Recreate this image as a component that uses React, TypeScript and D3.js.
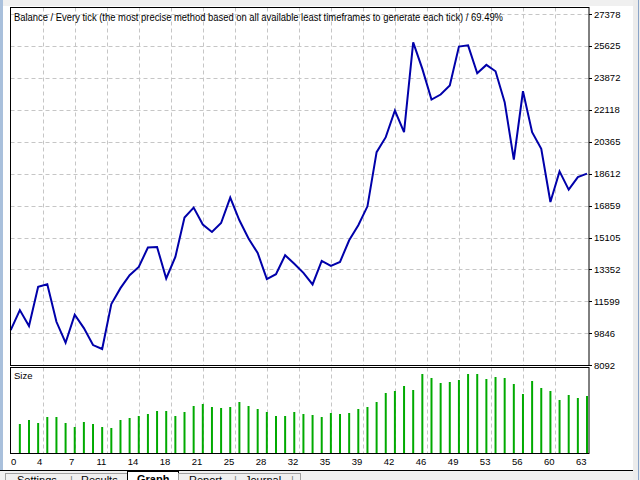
import * as d3 from 'd3'

// balance after each trade (index 0 = initial deposit)
const balance = [
  10026, 11122, 10245, 12399, 12546, 10481, 9330, 10864, 10136, 9204,
  8985, 11451, 12327, 13040, 13494, 14557, 14590, 12859, 14042, 16201,
  16749, 15817, 15412, 15905, 17297, 16053, 15050, 14261, 12820, 13094,
  14135, 13670, 13166, 12530, 13823, 13549, 13768, 14957, 15779, 16820,
  19795, 20617, 22080, 20891, 25822, 24365, 22683, 22957, 23450, 25587,
  25658, 24124, 24584, 24233, 22535, 19379, 23137, 20891, 19981, 17056,
  18738, 17735, 18425, 18612,
]

// lot size of trades 1..63
const lotSizes = [
  0.29, 0.33, 0.3, 0.36, 0.36, 0.3, 0.26, 0.31, 0.29, 0.26,
  0.25, 0.33, 0.35, 0.37, 0.39, 0.42, 0.42, 0.37, 0.41, 0.47,
  0.49, 0.46, 0.45, 0.46, 0.51, 0.47, 0.44, 0.41, 0.37, 0.37,
  0.41, 0.39, 0.38, 0.36, 0.4, 0.39, 0.4, 0.44, 0.46, 0.51,
  0.6, 0.62, 0.67, 0.63, 0.79, 0.75, 0.7, 0.71, 0.73, 0.79,
  0.79, 0.74, 0.76, 0.75, 0.69, 0.59, 0.72, 0.65, 0.62, 0.53,
  0.58, 0.55, 0.57,
]

const yTicks = [8092, 9846, 11599, 13352, 15105, 16859, 18612, 20365, 22118, 23872, 25625, 27378]
const xTickLabels = [0, 4, 7, 11, 14, 18, 21, 25, 28, 32, 35, 39, 42, 46, 49, 53, 56, 60, 63]

const title =
  'Balance / Every tick (the most precise method based on all available least timeframes to generate each tick) / 69.49%'

const font = "'Liberation Sans', Arial, sans-serif"

export default function App() {
  const left = 10.5
  const right = 589
  const top = 7.5
  const mainBottom = 365.5
  const subTop = 367.5
  const subBottom = 453.5

  const x = d3.scaleLinear().domain([0, balance.length - 1]).range([10.7, 587])
  const y = d3.scaleLinear().domain([8092, 27378]).range([365.3, 14])
  const size = d3.scaleLinear().domain([0, 0.86]).range([453, 367])

  const line = d3
    .line<number>()
    .x((_, i) => x(i))
    .y((d) => y(d))

  const step = (balance.length - 1) / (xTickLabels.length - 1)
  const gridX = xTickLabels.map((_, k) => x(k * step))

  return (
    <div style={{ position: 'fixed', left: 0, top: 0 }}>
      <svg width={640} height={480} style={{ display: 'block' }} fontFamily={font}>
        <rect width={640} height={480} fill="#ffffff" />
        {/* window chrome */}
        <rect x={0} y={0} width={640} height={6} fill="#f0f0f0" />
        <rect x={0} y={0} width={3} height={480} fill="#a9c0dc" />
        <rect x={633} y={0} width={7} height={480} fill="#ececec" />
        <line x1={638.5} x2={638.5} y1={0} y2={480} stroke="#8aa4c8" />

        {/* grid */}
        <g stroke="#c6c6c6" strokeDasharray="4,3">
          {yTicks.slice(1).map((t) => (
            <line key={t} x1={left} x2={right} y1={Math.round(y(t)) + 0.5} y2={Math.round(y(t)) + 0.5} />
          ))}
          {gridX.slice(1, -1).map((gx, k) => (
            <g key={k}>
              <line x1={Math.round(gx) + 0.5} x2={Math.round(gx) + 0.5} y1={top} y2={mainBottom} />
              <line x1={Math.round(gx) + 0.5} x2={Math.round(gx) + 0.5} y1={subTop} y2={subBottom} />
            </g>
          ))}
        </g>

        {/* size bars */}
        <g stroke="#00aa00" strokeWidth={2}>
          {lotSizes.map((s, i) => (
            <line key={i} x1={x(i + 1)} x2={x(i + 1)} y1={size(0)} y2={size(s)} />
          ))}
        </g>

        {/* balance line */}
        <path d={line(balance) ?? ''} fill="none" stroke="#0000aa" strokeWidth={2} strokeLinejoin="miter" />

        {/* frames */}
        <rect x={left} y={top} width={right - left} height={mainBottom - top} fill="none" stroke="#000" />
        <rect x={left} y={subTop} width={right - left} height={subBottom - subTop} fill="none" stroke="#000" />

        <text x={14} y={20.5} fontSize={10} textLength={489} lengthAdjust="spacingAndGlyphs" fill="#000">
          {title}
        </text>
        <text x={14} y={379} fontSize={9.5} fill="#000">
          Size
        </text>

        {/* right axis */}
        <g fontSize={9.5} fill="#000">
          {yTicks.map((t) => (
            <g key={t}>
              <line x1={right} x2={right + 3} y1={Math.round(y(t)) + 0.5} y2={Math.round(y(t)) + 0.5} stroke="#000" />
              <text x={594} y={y(t) + 3.5}>
                {t}
              </text>
            </g>
          ))}
        </g>

        {/* bottom axis */}
        <g fontSize={9.5} fill="#000">
          {xTickLabels.map((lab, k) => (
            <text key={k} x={k === 0 ? 11 : gridX[k] - 0.5} y={465} textAnchor={k === 0 ? 'start' : 'end'}>
              {lab}
            </text>
          ))}
        </g>

        {/* tab bar */}
        <rect x={0} y={470} width={633} height={10} fill="#f0f0f0" />
        <line x1={0} x2={633} y1={470.5} y2={470.5} stroke="#000" />
        <rect x={5.5} y={473.5} width={122} height={10} fill="#f0f0f0" stroke="#a0a0a0" />
        <rect x={127.5} y={471.5} width={51} height={12} fill="#ffffff" stroke="#000" />
        <rect x={178.5} y={473.5} width={122} height={10} fill="#f0f0f0" stroke="#a0a0a0" />
        <g fontSize={11} fill="#000">
          <text x={17} y={484}>Settings</text>
          <text x={70} y={484} fill="#808080">|</text>
          <text x={81} y={484}>Results</text>
          <text x={137} y={483} fontWeight="bold">Graph</text>
          <text x={189} y={484}>Report</text>
          <text x={234} y={484} fill="#808080">|</text>
          <text x={245} y={484}>Journal</text>
          <text x={291} y={484} fill="#808080">|</text>
        </g>
      </svg>
    </div>
  )
}
